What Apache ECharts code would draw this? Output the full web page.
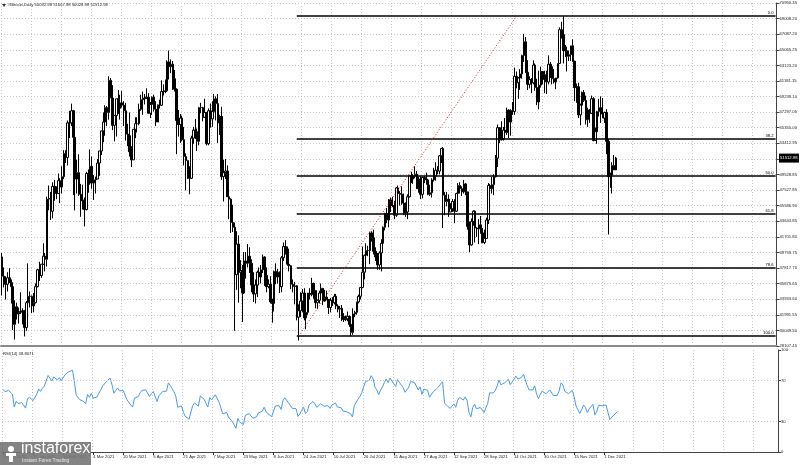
<!DOCTYPE html>
<html><head><meta charset="utf-8">
<script src="https://cdn.jsdelivr.net/npm/echarts@6/dist/echarts.min.js"></script>
<style>html,body{margin:0;padding:0;background:#fff}#c{width:800px;height:465px}</style>
</head><body><div id="c"></div>
<script>
// ---------------- DATA ----------------
const firstDate = [2021, 0, 15];   // first daily bar: 15 Jan 2021
const totalSlots = 413;            // bars that fit on the time axis (incl. empty future space)

// closes before the first visible bar (17 Dec 2020 .. 14 Jan 2021), only used to warm up RSI(14)
const priorCloses = [22800,23100,23800,23500,22700,23800,23200,23700,24700,26400,26200,27000,27300,28800,29000,
  29400,32200,33000,31900,34000,36800,39400,40600,40200,38300,35500,33900,37300,39200];

// Daily OHLC, 15 Jan 2021 .. 8 Dec 2021
const opens = [
39200,36800,36000,35800,36600,36000,35500,30800,33000,32100,32300,32400,32500,30400,33500,34300,34300,
33100,33500,35500,37600,36900,38300,39300,38900,46400,46500,44900,48000,47500,47100,48700,47900,49200,52100,51600,55900,55900,57400,54100,48900,49700,47000,46300,46200,
45100,49600,48400,50500,48400,48800,48900,50900,52400,54900,56000,57800,57200,61200,59000,55600,56800,58900,57700,58400,58100,57400,54500,54300,52300,51300,55100,55800,55800,57600,58800,
58900,59000,59100,57100,58200,59100,57600,56000,58100,58100,59800,59800,59900,63500,62900,63200,61400,60100,56200,55700,56500,53800,51700,51200,50100,49000,54000,55000,54800,53600,
57800,57800,56600,57200,53300,57400,56400,57300,58900,58300,55900,56700,49200,49700,49900,46700,46400,43500,42900,37000,40800,37300,37500,34700,38700,38400,39300,38400,35700,34600,35700,
37300,36700,37600,39200,36900,35500,35800,33600,33400,37400,36700,37300,35500,39100,40500,40200,38300,38100,35800,35500,35600,31700,32500,33700,34700,31600,32300,34700,34500,35900,
35000,33500,33800,34700,35300,33700,34200,33900,32900,33800,33500,34300,33100,32700,32800,31800,31400,31500,31800,30800,29800,32100,32300,33600,34300,35400,37300,39400,40000,40000,42200,
41600,39900,39200,38200,39700,40900,42900,44600,43800,46300,45600,45600,44400,47800,47100,47000,45900,44700,44800,46700,49300,48900,49300,49500,47700,48900,47000,49100,48900,48800,47000,
47200,48800,49300,50000,49900,51800,52700,46900,46100,46400,44800,45200,46100,44900,47100,48100,47700,47300,48300,47300,43000,40700,43600,44900,42800,42700,43200,42200,41000,41500,
43800,48100,47700,48200,49200,51500,55300,53800,53900,55000,54700,57500,56000,57400,57300,61700,60900,61500,62000,64300,66000,62200,60700,61300,60900,63100,60300,58500,60600,62300,61900,
61300,61000,63200,62900,61400,61000,61500,63300,67500,66900,64900,64900,64200,64400,65500,63600,60300,60400,56900,58100,59700,58700,56300,57500,57100,58900,53700,54800,57300,57800,
57000,56500,57200,53600,49200,49400,50600,50033];
const highs = [
39700,37900,36800,37300,37800,36400,35600,33800,33500,32900,34800,32800,32600,33700,38400,34900,34400,
34700,35900,37700,38600,38300,40900,39700,46700,48100,47300,48500,48800,48000,49600,49000,50500,52500,52500,56200,57400,58300,57500,54200,51300,52000,48300,48200,46600,
49800,50100,52600,51700,49400,49200,51400,52400,54900,57200,58100,58000,61700,61500,60600,56900,58900,60000,59400,59900,58600,58400,55800,57200,53000,55100,56600,56600,58300,59400,59800,
59500,60200,59600,58500,59200,59400,58600,58200,58800,61200,60700,61300,63700,64900,63800,63600,62500,60200,57500,57000,56800,55400,52100,51200,50500,54300,55400,56400,55200,57900,
58400,57900,58900,57200,57700,58300,58600,59500,59200,59500,56900,57900,51300,51400,50600,49800,46500,45700,43500,42400,41900,38800,38200,39800,39800,40800,40400,38900,37300,36400,37500,
37900,38200,39500,39300,37900,36400,36800,34000,37500,38400,37700,37400,39300,41000,41300,40500,39500,38200,36400,36100,35700,33300,34800,35200,35300,32700,34700,35300,36600,36000,
35000,33900,35000,35900,35300,35100,35000,33900,34100,34200,34600,34600,33300,33100,33200,32200,31900,32400,31900,31000,32800,32500,33600,34500,35400,40500,39500,40900,40600,42300,42400,
42600,40400,39700,39900,41400,43000,44700,45300,46400,46600,46700,46200,47900,48100,47400,48000,47100,46000,47000,49300,49800,49500,50500,49900,49200,49300,49200,49300,49700,48900,48200,
49000,50300,51000,50500,51900,52800,52900,47300,47300,47000,45900,46400,46400,47200,48400,48500,48000,48800,48400,47300,43600,44000,45000,45000,42900,43900,44300,42800,42600,44100,
48400,48300,49200,49500,51900,55700,55300,56100,55400,56500,57800,57600,57600,58500,62800,62300,61600,62600,64400,67000,66600,63700,61700,61500,63700,63300,61400,62400,62900,62300,62400,
62400,64300,63500,63100,62600,61500,63300,67800,68500,69150,65600,65400,64900,65500,66300,63600,60800,60900,58300,59800,60000,59300,57800,57600,59300,59100,55300,57400,58900,59200,
59000,57300,57600,53900,49700,51000,51900,51668];
const lows = [
34400,35400,33900,34900,36000,33400,30100,28900,31400,30900,32100,30800,29300,30000,31900,32900,32200,
32300,33400,35400,36200,36600,38200,37400,38000,45000,43800,44000,46200,46400,47100,45900,47100,48900,50900,50600,54000,55500,46900,45000,47100,46800,44200,45100,43000,
45000,47200,48200,47700,46300,47100,48900,49300,51900,53500,54300,55500,56300,59000,55000,53600,54200,57000,56300,57800,55500,53700,53000,51700,50400,51300,54000,54700,55600,57400,56900,
58200,58900,57100,56500,56900,57300,55500,56000,57700,58000,59300,59600,59800,61300,62100,60000,59800,52000,54200,53400,53600,50600,47500,48900,47000,48900,53300,53900,52400,53100,
57100,56100,56500,53100,53100,55300,55400,56900,56200,53400,54400,48800,46100,48900,46700,43900,42200,42300,30000,35100,33500,35300,31100,34600,36500,37900,37200,34800,33600,33400,34200,
35700,35900,37200,35600,34800,35300,33400,31000,32400,35800,35900,34700,34800,38700,39500,38100,37400,35200,34800,33300,31300,28800,31700,32300,31300,30200,32000,33900,34300,34000,
32800,32700,33400,34100,33200,33600,33800,32100,32300,33100,33300,32700,32300,31600,31200,31100,31200,31200,30500,29300,29500,31700,32000,33400,33900,35300,36400,38800,39300,38300,41100,
39500,38700,37600,37600,37400,39900,42500,43400,42900,44800,45400,43900,44200,45700,45600,45700,44400,44200,43900,46600,48400,48300,49000,47700,47200,46400,46500,48400,48200,46900,46800,
46600,48600,48700,49500,49500,50900,42800,44400,45500,44200,44800,44800,43400,44800,46700,47100,46800,47100,46900,42600,39800,40600,43100,41000,41700,40800,42100,40900,40800,41500,
43300,47400,47100,46900,49100,50400,53400,53700,53700,54100,54400,54000,54300,56900,56900,60200,58900,60000,61400,63500,62100,60000,60200,59600,60700,59900,58100,57600,60300,60700,59600,
59500,60700,61500,60700,60800,60100,61400,63300,66400,63300,64100,62300,63600,63600,63500,58600,58400,56500,55600,57500,58500,55700,55400,55900,57000,53600,53700,53300,56700,55900,
56500,55900,52000,42000,47800,47100,50100,50029];
const closes = [
36800,36000,35800,36600,36000,35500,30800,33000,32100,32300,32400,32500,30400,33500,34300,34300,33100,
33500,35500,37600,36900,38300,39300,38900,46400,46500,44900,48000,47500,47100,48700,47900,49200,52100,51600,55900,55900,57400,54100,48900,49700,47000,46300,46200,45100,
49600,48400,50500,48400,48800,48900,50900,52400,54900,56000,57800,57200,61200,59000,55600,56800,58900,57700,58400,58100,57400,54500,54300,52300,51300,55100,55800,55800,57600,58800,58900,
59000,59100,57100,58200,59100,57600,56000,58100,58100,59800,59800,59900,63500,62900,63200,61400,60100,56200,55700,56500,53800,51700,51200,50100,49000,54000,55000,54800,53600,57800,
57800,56600,57200,53300,57400,56400,57300,58900,58300,55900,56700,49200,49700,49900,46700,46400,43500,42900,37000,40800,37300,37500,34700,38700,38400,39300,38400,35700,34600,35700,37300,
36700,37600,39200,36900,35500,35800,33600,33400,37400,36700,37300,35500,39100,40500,40200,38300,38100,35800,35500,35600,31700,32500,33700,34700,31600,32300,34700,34500,35900,35000,
33500,33800,34700,35300,33700,34200,33900,32900,33800,33500,34300,33100,32700,32800,31800,31400,31500,31800,30800,29800,32100,32300,33600,34300,35400,37300,39400,40000,40000,42200,41600,
39900,39200,38200,39700,40900,42900,44600,43800,46300,45600,45600,44400,47800,47100,47000,45900,44700,44800,46700,49300,48900,49300,49500,47700,48900,47000,49100,48900,48800,47000,47200,
48800,49300,50000,49900,51800,52700,46900,46100,46400,44800,45200,46100,44900,47100,48100,47700,47300,48300,47300,43000,40700,43600,44900,42800,42700,43200,42200,41000,41500,43800,
48100,47700,48200,49200,51500,55300,53800,53900,55000,54700,57500,56000,57400,57300,61700,60900,61500,62000,64300,66000,62200,60700,61300,60900,63100,60300,58500,60600,62300,61900,61300,
61000,63200,62900,61400,61000,61500,63300,67500,66900,64900,64900,64200,64400,65500,63600,60300,60400,56900,58100,59700,58700,56300,57500,57100,58900,53700,54800,57300,57800,57000,
56500,57200,53600,49200,49400,50600,50033,51512.98];

// Price axis tick labels (bottom to top) as printed on the chart
const priceTickBase = 28107.45;
const priceTickStep = 1942.05;
const priceTickLabels = ['28107.45','30049.50','31991.55','33933.60','35875.65','37817.70','39759.75',
  '41701.80','43643.85','45586.90','47527.85','49528.85','','53412.95','55355.00','57297.05','59239.10',
  '61181.15','63123.20','65065.25','67087.20','69008.20','70950.35'];

// Fibonacci retracement
const fibLevels = ['0.0','38.2','50.0','61.8','78.6','100.0'];
const fibPrices = [69190, 53970, 49270, 44570, 37880, 29350];
const fibStartDate = '21 Jun 2021';
// red dotted trend line of the fib tool
const trendStart = ['22 Jun 2021', 29350];
const trendEnd = ['16 Oct 2021', 69190];

// RSI
const rsiPeriod = 14;
const rsiTickValues = [0, 30, 70, 100];
const rsiLevelLines = [30, 70];

const headerText = '#Bitcoin,Daily 50032.98 51667.98 50028.98 51512.98';
const rsiText = 'RSI(14) 38.8071';
const lastPrice = 51512.98;
const lastPriceText = '51512.98';
const labelStartIndex = 48;  // 4 Mar 2021
const labelEvery = 16;

// ---------------- BUILD ----------------
const MON = ['Jan','Feb','Mar','Apr','May','Jun','Jul','Aug','Sep','Oct','Nov','Dec'];
const cats = [];
for (let i = 0; i < totalSlots; i++) {
  const d = new Date(Date.UTC(firstDate[0], firstDate[1], firstDate[2] + i));
  cats.push(d.getUTCDate() + ' ' + MON[d.getUTCMonth()] + ' ' + d.getUTCFullYear());
}
const lastIdx = closes.length - 1;
const candle = opens.map((o, i) => [o, closes[i], lows[i], highs[i]]);

// RSI(14), Wilder smoothing, on the close series
function rsiCalc(c, n) {
  const out = c.map(() => '-');
  let g = 0, l = 0;
  for (let i = 1; i <= n; i++) { const d = c[i] - c[i - 1]; if (d > 0) g += d; else l -= d; }
  g /= n; l /= n;
  out[n] = 100 - 100 / (1 + g / l);
  for (let i = n + 1; i < c.length; i++) {
    const d = c[i] - c[i - 1];
    g = (g * (n - 1) + Math.max(d, 0)) / n;
    l = (l * (n - 1) + Math.max(-d, 0)) / n;
    out[i] = l === 0 ? 100 : 100 - 100 / (1 + g / l);
  }
  return out;
}
const rsi = rsiCalc(priorCloses.concat(closes), rsiPeriod).slice(priorCloses.length);

const priceTickValues = priceTickLabels.map((_, k) => +(priceTickBase + k * priceTickStep).toFixed(2));
const priceMax = priceTickValues[priceTickValues.length - 1];

const FONT = 'Liberation Sans';
const FS = 4.2;
const gridFn = (idx) => (idx - labelStartIndex) % labelEvery === 0;
const labelFn = (idx) => idx <= lastIdx && (idx - labelStartIndex) % labelEvery === 0;
const dotted = { color: '#c8c8c8', type: [1, 2], width: 1 };

const fibMark = fibPrices.map((p, i) => [
  { coord: [fibStartDate, p], label: { formatter: fibLevels[i] } },
  { coord: [cats[totalSlots - 1], p] }
]);

const chart = echarts.init(document.getElementById('c'), null, { renderer: 'canvas' });
chart.setOption({
  animation: false,
  backgroundColor: '#fff',
  textStyle: { fontFamily: FONT },
  grid: [
    { left: 1, right: 22, top: 3, height: 343 },
    { left: 1, right: 22, top: 350, height: 102 }
  ],
  xAxis: [
    { type: 'category', gridIndex: 0, data: cats, boundaryGap: true,
      axisLabel: { show: false }, axisTick: { show: false },
      axisLine: { show: true, lineStyle: { color: '#8a8a8a', width: 2 } },
      splitLine: { show: true, interval: gridFn, lineStyle: dotted } },
    { type: 'category', gridIndex: 1, data: cats, boundaryGap: true,
      axisLabel: { interval: labelFn, align: 'left', fontSize: FS, margin: 3, color: '#222', fontFamily: FONT },
      axisTick: { show: true, interval: labelFn, alignWithLabel: true, length: 3, lineStyle: { color: '#333' } },
      axisLine: { show: true, lineStyle: { color: '#444', width: 1 } },
      splitLine: { show: true, interval: gridFn, lineStyle: dotted } }
  ],
  yAxis: [
    { type: 'value', gridIndex: 0, position: 'right', min: priceTickBase, max: priceMax, scale: true,
      axisLine: { show: true, lineStyle: { color: '#444' } },
      axisTick: { show: true, length: 3, customValues: priceTickValues, lineStyle: { color: '#444' } },
      axisLabel: { customValues: priceTickValues, fontSize: FS, margin: 3, color: '#222', fontFamily: FONT,
        formatter: (v) => priceTickLabels[Math.round((v - priceTickBase) / priceTickStep)] || '' },
      splitLine: { show: false } },
    { type: 'value', gridIndex: 1, position: 'right', min: 0, max: 100,
      axisLine: { show: true, lineStyle: { color: '#444' } },
      axisTick: { show: true, length: 3, customValues: rsiTickValues, lineStyle: { color: '#444' } },
      axisLabel: { customValues: rsiTickValues, fontSize: FS, margin: 3, color: '#222', fontFamily: FONT },
      splitLine: { show: false } },
    // helper axis only for the dotted horizontal price grid lines (one per price tick)
    { type: 'value', gridIndex: 0, min: 0, max: priceTickLabels.length - 1, interval: 1,
      axisLine: { show: false }, axisTick: { show: false }, axisLabel: { show: false },
      splitLine: { show: true, lineStyle: dotted } }
  ],
  series: [
    { type: 'candlestick', name: '#Bitcoin', xAxisIndex: 0, yAxisIndex: 0, data: candle,
      barWidth: 2, z: 3,
      itemStyle: { color: '#fff', color0: '#000', borderColor: '#000', borderColor0: '#000', borderWidth: 1 },
      markLine: {
        silent: true, symbol: ['none', 'none'], animation: false,
        lineStyle: { color: '#000', width: 1.6, type: 'solid' },
        label: { show: true, position: 'insideEndTop', fontSize: FS, color: '#000', distance: [2, 1], fontFamily: FONT },
        data: fibMark.concat([[
          { coord: trendStart, lineStyle: { color: '#e02020', width: 1, type: [1, 2] }, label: { show: false } },
          { coord: trendEnd }
        ]])
      }
    },
    { type: 'line', name: 'RSI(14)', xAxisIndex: 1, yAxisIndex: 1, data: rsi, showSymbol: false,
      lineStyle: { color: '#4a9be6', width: 1 }, z: 3,
      markLine: { silent: true, symbol: ['none', 'none'], label: { show: false },
        lineStyle: { color: '#c8c8c8', type: [1, 2], width: 1 },
        data: rsiLevelLines.map(v => ({ yAxis: v })) } }
  ]
});

// texts and decorations positioned through the chart's own scales
const yLast = chart.convertToPixel({ yAxisIndex: 0 }, lastPrice);
chart.setOption({
  graphic: [
    { type: 'polygon', shape: { points: [[2, 4], [6, 4], [4, 7]] }, style: { fill: '#333' } },
    { type: 'text', left: 8, top: 3, style: { text: headerText, font: FS + 'px ' + FONT, fill: '#222' } },
    { type: 'text', left: 3, top: 352, style: { text: rsiText, font: FS + 'px ' + FONT, fill: '#222' } },
    { type: 'rect', shape: { x: 779, y: yLast - 4.5, width: 20, height: 9 }, style: { fill: '#000' }, z: 10 },
    { type: 'text', x: 780, y: yLast - 2.5, style: { text: lastPriceText, font: FS + 'px ' + FONT, fill: '#fff' }, z: 11 },
    // instaforex logo
    { type: 'rect', shape: { x: 0, y: 442, width: 91, height: 23 }, style: { fill: 'rgba(118,118,118,0.9)' }, z: 20 },
    { type: 'circle', shape: { cx: 11, cy: 449, r: 3 }, style: { fill: '#fff' }, z: 21 },
    { type: 'rect', shape: { x: 6, y: 453, width: 10, height: 3 }, style: { fill: '#fff' }, z: 21 },
    { type: 'rect', shape: { x: 9, y: 453, width: 4, height: 9 }, style: { fill: '#fff' }, z: 21 },
    { type: 'text', x: 21, y: 441, style: { text: 'instaforex', font: '16px ' + FONT, fill: '#fff' }, z: 21 },
    { type: 'text', x: 22, y: 458, style: { text: 'Instant Forex Trading', font: '5px ' + FONT, fill: '#e8e8e8' }, z: 21 }
  ]
});
</script></body></html>
